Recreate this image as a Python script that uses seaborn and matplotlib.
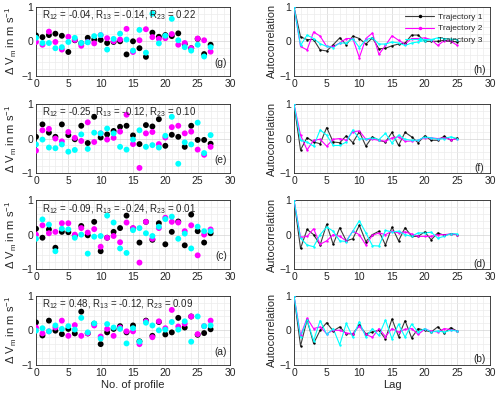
import numpy as np
import pandas as pd
import matplotlib
matplotlib.use("Agg")
import matplotlib.pyplot as plt
from matplotlib.ticker import MultipleLocator
import seaborn as sns

# profile deviations per panel (trajectory 1, 2, 3), profiles 0..27
profiles = list(range(28))

g_t1 = [0.17, 0.12, 0.18, 0.22, 0.16, -0.31, 0.03, -0.06, 0.10, 0.05, 0.04, -0.05, -0.02, 0.0,
        -0.38, 0.0, -0.20, -0.45, 0.25, 0.13, 0.18, 0.15, 0.23, -0.08, -0.20, 0.07, -0.37, -0.10]
g_t2 = [-0.02, -0.10, 0.28, -0.02, -0.24, 0.13, 0.04, -0.13, -0.02, -0.06, 0.18, 0.09, 0.0, 0.05,
        0.36, -0.31, 0.03, 0.35, 0.12, 0.07, 0.09, 0.21, -0.10, -0.05, -0.20, 0.08, 0.03, -0.30]
g_t3 = [0.10, -0.05, -0.05, -0.20, -0.17, -0.02, 0.10, -0.05, -0.03, 0.15, 0.18, -0.24, 0.07, 0.22,
        0.05, -0.27, 0.33, -0.33, 0.80, -0.06, 0.16, 0.65, 0.03, -0.17, -0.27, -0.10, -0.44, -0.17]

e_t1 = [0.05, 0.41, 0.17, 0.05, 0.41, 0.10, -0.02, 0.37, -0.13, 0.63, 0.03, 0.12, 0.22, 0.34,
        0.37, 0.09, -0.16, 0.39, 0.35, 0.56, -0.21, 0.11, 0.05, -0.24, 0.37, -0.04, -0.04, -0.15]
e_t2 = [-0.35, 0.24, 0.28, 0.0, -0.08, 0.19, 0.02, -0.07, 0.47, -0.10, 0.15, -0.03, 0.02, 0.20,
        0.69, -0.16, -0.85, 0.15, 0.19, -0.16, 0.03, 0.33, 0.37, 0.15, 0.20, -0.32, -0.47, -0.24]
e_t3 = [-0.17, -0.03, -0.26, -0.28, -0.17, -0.38, -0.33, 0.12, -0.30, 0.17, 0.15, 0.29, 0.15, -0.24,
        -0.32, -0.03, 0.24, -0.24, -0.19, -0.26, 0.08, 0.63, -0.73, -0.11, -0.17, 0.46, -0.42, 0.10]

c_t1 = [0.17, -0.09, 0.15, -0.38, 0.08, 0.07, -0.03, 0.25, -0.02, 0.37, -0.48, -0.09, 0.08, 0.19,
        0.55, 0.18, -0.23, 0.37, -0.15, 0.33, -0.28, 0.08, 0.38, -0.31, 0.58, 0.10, -0.23, 0.04]
c_t2 = [0.0, 0.27, 0.04, 0.08, 0.33, 0.33, 0.0, 0.19, 0.06, 0.16, -0.35, -0.09, -0.04, -0.22,
        0.35, 0.19, -0.81, 0.37, -0.12, 0.19, 0.49, 0.37, 0.35, 0.10, 0.27, -0.60, 0.0, 0.15]
c_t3 = [-0.12, 0.44, 0.29, -0.48, 0.17, 0.15, -0.09, 0.0, -0.55, -0.06, -0.04, 0.55, 0.35, -0.40,
        -0.53, 0.13, 0.19, 0.04, -0.04, 0.23, 0.45, 0.52, -0.12, 0.03, -0.40, 0.23, 0.10, 0.10]

a_t1 = [0.23, -0.15, 0.28, -0.01, -0.11, 0.04, -0.09, 0.54, -0.09, 0.19, -0.40, -0.06, 0.04, 0.12,
        -0.06, 0.14, -0.32, 0.28, -0.16, 0.24, -0.12, -0.06, 0.36, 0.08, 0.40, -0.13, -0.08, 0.03]
a_t2 = [0.08, -0.09, -0.03, 0.08, 0.28, -0.16, 0.15, -0.16, -0.09, 0.14, -0.18, 0.04, -0.16, 0.08,
        -0.03, -0.03, -0.40, 0.26, -0.20, 0.26, 0.06, 0.59, 0.11, 0.19, 0.40, -0.11, 0.12, 0.28]
a_t3 = [-0.01, 0.06, -0.03, 0.14, 0.04, 0.12, 0.02, 0.36, -0.06, 0.20, -0.24, 0.18, 0.08, 0.04,
        -0.38, 0.06, -0.33, 0.22, 0.14, 0.0, 0.02, 0.24, 0.02, 0.26, -0.33, 0.40, 0.12, 0.14]

# autocorrelation per panel, lags 0..25
lags = list(range(26))

h_t1 = [1, 0.13, 0.05, 0.05, -0.25, -0.28, -0.10, 0.10, -0.10, 0.15, 0.08, -0.08, 0.10, -0.22,
        -0.20, -0.13, -0.08, -0.05, 0.18, 0.18, 0.0, 0.0, 0.0, 0.03, 0.0, -0.02]
h_t2 = [1, -0.15, -0.25, 0.27, 0.15, -0.15, -0.15, -0.05, 0.08, 0.08, -0.47, 0.08, 0.24, -0.38,
        -0.12, 0.16, 0.03, -0.08, 0.08, 0.08, 0.10, 0.05, -0.12, 0.02, 0.0, -0.12]
h_t3 = [1, -0.12, 0.18, 0.08, -0.07, -0.15, -0.18, -0.05, -0.05, 0.08, -0.18, 0.05, 0.10, -0.08,
        -0.08, -0.02, -0.05, -0.12, -0.05, -0.02, 0.02, 0.05, 0.10, 0.08, 0.06, 0.05]

f_t1 = [1, -0.33, 0.03, -0.10, -0.15, 0.32, -0.10, -0.12, 0.08, -0.12, 0.20, -0.22, 0.05, -0.05,
        -0.10, 0.18, -0.20, 0.18, 0.05, -0.12, 0.08, -0.05, -0.05, 0.07, -0.05, 0.02]
f_t2 = [1, 0.10, -0.33, -0.05, -0.02, -0.22, -0.02, 0.0, -0.05, 0.20, 0.22, -0.02, -0.02, -0.05,
        -0.08, 0.02, 0.05, -0.08, -0.07, -0.05, 0.03, 0.02, 0.0, 0.02, -0.03, -0.02]
f_t3 = [1, -0.05, -0.10, -0.22, 0.25, 0.10, -0.20, -0.20, -0.10, 0.25, 0.0, -0.02, 0.03, -0.03,
        0.15, -0.13, 0.10, -0.02, -0.05, -0.05, 0.05, 0.02, -0.02, 0.0, 0.05, 0.0]

d_t1 = [1, -0.40, 0.15, 0.0, -0.30, 0.30, -0.28, 0.20, -0.18, -0.12, 0.27, -0.20, 0.0, 0.10,
        -0.30, 0.22, -0.18, 0.20, -0.05, -0.05, 0.08, -0.15, 0.05, -0.02, 0.02, 0.0]
d_t2 = [1, -0.08, -0.05, 0.17, -0.28, -0.18, 0.0, -0.05, -0.18, 0.10, 0.0, -0.30, -0.02, 0.05,
        0.0, 0.10, 0.05, 0.08, 0.02, -0.05, -0.05, -0.05, 0.0, 0.0, 0.02, 0.0]
d_t3 = [1, -0.10, -0.30, -0.35, 0.0, 0.22, 0.10, -0.18, -0.20, 0.10, 0.40, 0.05, -0.32, -0.33,
        0.12, 0.08, 0.10, 0.0, -0.05, 0.05, 0.05, 0.07, -0.10, -0.05, 0.03, 0.02]

b_t1 = [1, -0.45, 0.30, -0.38, 0.0, 0.22, -0.02, 0.10, -0.10, -0.10, 0.15, -0.10, -0.05, 0.0,
        -0.25, 0.33, -0.18, 0.28, -0.22, 0.05, 0.0, -0.05, 0.10, -0.08, 0.08, -0.03]
b_t2 = [1, -0.15, 0.35, 0.05, 0.10, -0.10, 0.0, 0.0, -0.08, -0.10, 0.12, -0.12, -0.20, 0.05,
        -0.18, 0.05, -0.05, 0.03, 0.05, -0.12, 0.03, -0.02, -0.05, 0.05, 0.02, -0.02]
b_t3 = [1, -0.20, 0.30, -0.30, 0.28, -0.12, 0.05, -0.42, 0.20, -0.20, 0.25, -0.20, 0.05, -0.15,
        0.30, -0.25, 0.18, -0.20, 0.18, -0.05, 0.05, -0.05, -0.02, -0.05, 0.0, -0.02]

r_texts = [
    r"R$_{12}$ = -0.04, R$_{13}$ = -0.14, R$_{23}$ = 0.22",
    r"R$_{12}$ = -0.25, R$_{13}$ = -0.12, R$_{23}$ = 0.10",
    r"R$_{12}$ = -0.09, R$_{13}$ = -0.24, R$_{23}$ = 0.01",
    r"R$_{12}$ = 0.48, R$_{13}$ = -0.12, R$_{23}$ = 0.09",
]
left_labels = ["(g)", "(e)", "(c)", "(a)"]
right_labels = ["(h)", "(f)", "(d)", "(b)"]
traj_names = ["Trajectory 1", "Trajectory 2", "Trajectory 3"]

left_data = [(g_t1, g_t2, g_t3), (e_t1, e_t2, e_t3), (c_t1, c_t2, c_t3), (a_t1, a_t2, a_t3)]
right_data = [(h_t1, h_t2, h_t3), (f_t1, f_t2, f_t3), (d_t1, d_t2, d_t3), (b_t1, b_t2, b_t3)]

sns.set_style("white")
plt.rcParams["font.family"] = ["Liberation Sans", "DejaVu Sans"]
plt.rcParams["mathtext.default"] = "regular"

dot_palette = {"Trajectory 1": "black", "Trajectory 2": "#ff00ff", "Trajectory 3": "#00ffff"}
line_palette = {"Trajectory 1": "#3c3c3c", "Trajectory 2": "#ff00ff", "Trajectory 3": "#00ffff"}
marker_cols = {"Trajectory 1": "black", "Trajectory 2": "#ff00ff", "Trajectory 3": "#00ffff"}


def style_axis(ax):
    ax.set_xlim(0, 30)
    ax.set_ylim(-1, 1)
    ax.xaxis.set_major_locator(MultipleLocator(5))
    ax.xaxis.set_minor_locator(MultipleLocator(1))
    ax.yaxis.set_major_locator(MultipleLocator(1))
    ax.yaxis.set_minor_locator(MultipleLocator(0.2))
    ax.grid(which="major", color="#d4d4d4", linewidth=0.5)
    ax.grid(which="minor", color="#ececec", linewidth=0.5)
    ax.set_axisbelow(True)
    ax.tick_params(which="both", direction="in", labelsize=7.5, length=2, pad=2, colors="#262626")
    ax.tick_params(which="minor", length=0)
    for sp in ax.spines.values():
        sp.set_color("#262626")
        sp.set_linewidth(0.6)


fig = plt.figure(figsize=(5.0, 3.97), dpi=100)
bottoms = [0.809, 0.564, 0.322, 0.081]
h = 0.174

for i in range(4):
    # left column: deviations per profile
    axl = fig.add_axes([0.072, bottoms[i], 0.388, h])
    t1, t2, t3 = left_data[i]
    df = pd.DataFrame({
        "profile": profiles * 3,
        "dv": t1 + t2 + t3,
        "traj": [n for n in traj_names for _ in profiles],
    })
    sns.scatterplot(data=df, x="profile", y="dv", hue="traj", palette=dot_palette,
                    s=18, linewidth=0, legend=False, ax=axl, zorder=3)
    style_axis(axl)
    axl.set_ylabel(r"Δ V$_{m}$ in m s$^{-1}$", fontsize=8, labelpad=2)
    axl.set_xlabel("No. of profile" if i == 3 else "", fontsize=8, labelpad=2)
    axl.text(1.0, 0.75, r_texts[i], fontsize=7, va="center", ha="left", color="#262626")
    axl.text(28.6, -0.63, left_labels[i], fontsize=7.3, ha="center", va="center", color="#262626")

    # right column: autocorrelation
    axr = fig.add_axes([0.588, bottoms[i], 0.392, h])
    r1, r2, r3 = right_data[i]
    dfr = pd.DataFrame({
        "lag": lags * 3,
        "ac": r1 + r2 + r3,
        "traj": [n for n in traj_names for _ in lags],
    })
    sns.lineplot(data=dfr, x="lag", y="ac", hue="traj", palette=line_palette,
                 linewidth=0.8, legend=False, ax=axr, zorder=3)
    for name in traj_names:
        sub = dfr[dfr["traj"] == name]
        sns.scatterplot(x=sub["lag"], y=sub["ac"], color=marker_cols[name], s=3,
                        linewidth=0, legend=False, ax=axr, zorder=4)
    style_axis(axr)
    axr.set_ylabel("Autocorrelation", fontsize=7.8, labelpad=2)
    axr.set_xlabel("Lag" if i == 3 else "", fontsize=8, labelpad=2)
    axr.text(28.4, -0.84, right_labels[i], fontsize=7.3, ha="center", va="center", color="#262626")

    if i == 0:
        handles = [plt.Line2D([], [], color=line_palette[n], lw=0.8, marker=".",
                              markersize=3, markerfacecolor=marker_cols[n],
                              markeredgecolor=marker_cols[n]) for n in traj_names]
        leg = axr.legend(handles, traj_names, loc="upper right", fontsize=6,
                         frameon=True, framealpha=0, edgecolor="#262626", fancybox=False,
                         borderpad=0.3, labelspacing=0.45, handlelength=3.4,
                         handletextpad=0.5, borderaxespad=0,
                         bbox_to_anchor=(0.974, 0.945))
        leg.get_frame().set_linewidth(0.6)

fig.savefig("out.png", dpi=100)
